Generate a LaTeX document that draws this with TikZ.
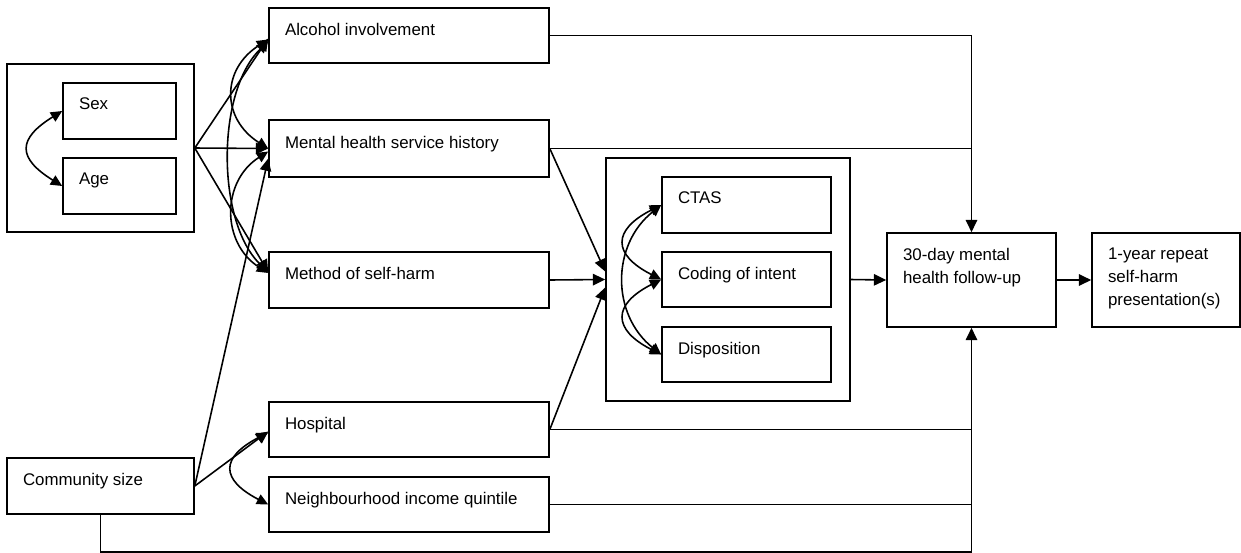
\documentclass[tikz,border=0pt]{standalone}
\usepackage{fontspec}
\setmainfont{Liberation Sans}
\usetikzlibrary{arrows.meta,fit,calc}
\begin{document}
\begin{tikzpicture}[x=0.02cm,y=-0.02cm, line width=0.9pt,
 box/.style={draw, inner sep=0pt},
 lbl/.style={anchor=north west, inner sep=0pt, font=\fontsize{9.6pt}{13pt}\selectfont, align=left},
 arr/.style={-{Triangle[length=7pt,width=6.5pt]}},
 dbl/.style={{Triangle[length=6.5pt,width=6pt]}-{Triangle[length=6.5pt,width=6pt]}}]
\useasboundingbox (0,0) rectangle (1241,552);
% boxes
\node[box, fit={(7,64)(194,232)}] (outer) {};
\node[box, fit={(63,83)(176,139)}] (sex) {};
\node[box, fit={(63,158)(176,214)}] (age) {};
\node[box, fit={(269,8)(549,63)}] (alc) {};
\node[box, fit={(269,120)(549,177)}] (mhs) {};
\node[box, fit={(269,252)(549,308)}] (meth) {};
\node[box, fit={(269,402)(549,457)}] (hosp) {};
\node[box, fit={(269,477)(549,532)}] (nbh) {};
\node[box, fit={(7,458)(194,514)}] (comm) {};
\node[box, fit={(606,158)(850,401)}] (grp) {};
\node[box, fit={(662,177)(831,233)}] (ctas) {};
\node[box, fit={(662,252)(831,307)}] (cod) {};
\node[box, fit={(662,327)(831,382)}] (disp) {};
\node[box, fit={(887,233)(1056,327)}] (fu) {};
\node[box, fit={(1092,233)(1240,327)}] (rep) {};
% labels
\node[lbl] (tsex) at ($(sex.north west)+(16,15)$) {Sex};
\node[lbl] (tage) at ($(age.north west)+(16,15)$) {Age};
\node[lbl] (talc) at ($(alc.north west)+(16,15)$) {Alcohol involvement};
\node[lbl] (tmhs) at ($(mhs.north west)+(16,16)$) {Mental health service history};
\node[lbl] (tmeth) at ($(meth.north west)+(16,15)$) {Method of self-harm};
\node[lbl] (thosp) at ($(hosp.north west)+(16,15)$) {Hospital};
\node[lbl] (tnbh) at ($(nbh.north west)+(16,15)$) {Neighbourhood income quintile};
\node[lbl] (tcomm) at ($(comm.north west)+(16,15)$) {Community size};
\node[lbl] (tctas) at ($(ctas.north west)+(16,15)$) {CTAS};
\node[lbl] (tcod) at ($(cod.north west)+(16,15)$) {Coding of intent};
\node[lbl] (tdisp) at ($(disp.north west)+(16,15)$) {Disposition};
\node[lbl] (tfu) at ($(fu.north west)+(16,15)$) {30-day mental\\health follow-up};
\node[lbl] (trep) at ($(rep.north west)+(16,15)$) {1-year repeat\\self-harm\\presentation(s)};
% connectors to follow-up
\draw[arr] (alc.east) -- (alc.east -| fu.north) -- (fu.north);
\draw (mhs.east) -- (mhs.east -| fu.north);
\draw (hosp.east) -- (hosp.east -| fu.south);
\draw (nbh.east) -- (nbh.east -| fu.south);
\draw[arr] (comm.south) -- ++(0,37) -| (fu.south);
\draw[arr] (grp.east) -- (fu.west);
\draw[arr] (fu.east) -- (rep.west);
% into group
\draw[arr] (mhs.east) -- ($(grp.west)+(0,-8)$);
\draw[arr] (meth.east) -- (grp.west);
\draw[arr] (hosp.east) -- ($(grp.west)+(0,8)$);
% from demographics
\draw[arr] (outer.east) -- ($(alc.west)+(0,3)$);
\draw[arr] (outer.east) -- (mhs.west);
\draw[arr] (outer.east) -- ($(meth.west)+(0,-8)$);
\draw[arr] (comm.east) -- ($(mhs.west)+(0,10)$);
\draw[arr] (comm.east) -- ($(hosp.west)+(0,2)$);
% correlations
\draw[dbl] (sex.west) .. controls +(-45,28) and +(-45,-28) .. (age.west);
\draw[dbl] ($(alc.west)+(0,4)$) .. controls +(-47,30) and +(-47,-30) .. (mhs.west);
\draw[dbl] ($(alc.west)+(0,6)$) .. controls +(-52,50) and +(-52,-50) .. ($(meth.west)+(0,-8)$);
\draw[dbl] ($(mhs.west)+(0,3)$) .. controls +(-47,30) and +(-47,-30) .. ($(meth.west)+(0,-7)$);
\draw[dbl] ($(hosp.west)+(0,3)$) .. controls +(-48,25) and +(-48,-25) .. (nbh.west);
\draw[dbl] (ctas.west) .. controls +(-49,25) and +(-49,-25) .. (cod.west);
\draw[dbl] (cod.west) .. controls +(-49,25) and +(-49,-25) .. (disp.west);
\draw[dbl] (ctas.west) .. controls +(-50,40) and +(-50,-40) .. (disp.west);
\end{tikzpicture}
\end{document}
